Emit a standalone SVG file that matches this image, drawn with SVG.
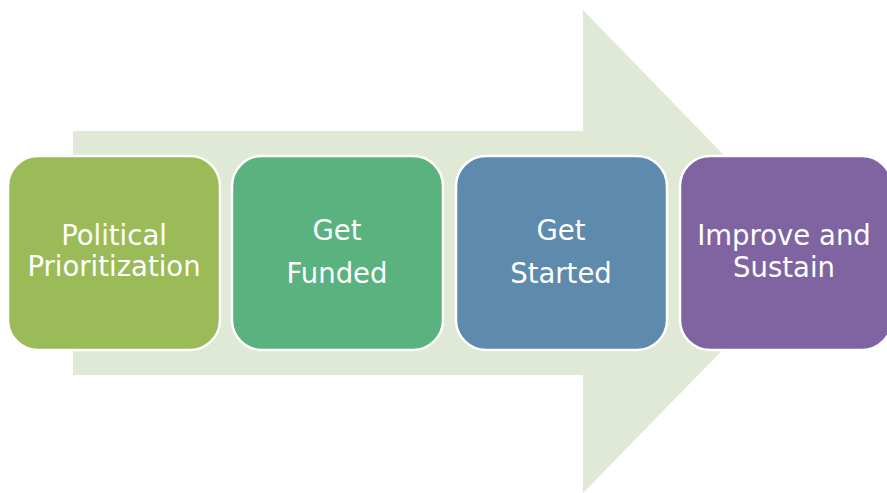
<svg xmlns="http://www.w3.org/2000/svg" width="887" height="493" viewBox="0 0 887 493">
<style>
.box{stroke:#ffffff;stroke-width:2.5}
.lbl{font-family:"DejaVu Sans","Liberation Sans",sans-serif;font-size:27.5px;fill:#ffffff;text-anchor:middle}
</style>
<rect width="887" height="493" fill="#ffffff"/>
<g id="connectors">
<polygon points="73,131 583,131 583,10 818,252 583,493 583,375 73,375" fill="#dfe9d5"/>
</g>
<g id="n1">
<rect class="box" x="8" y="156" width="212" height="194" rx="30" fill="#9bbb59"/>
<text class="lbl" x="114" y="245">Political</text>
<text class="lbl" x="114" y="276">Prioritization</text>
</g>
<g id="n2">
<rect class="box" x="232" y="156" width="211" height="194" rx="30" fill="#5ab27e"/>
<text class="lbl" x="337" y="240">Get</text>
<text class="lbl" x="337" y="283">Funded</text>
</g>
<g id="n3">
<rect class="box" x="456" y="156" width="211" height="194" rx="30" fill="#5e8bad"/>
<text class="lbl" x="561" y="240">Get</text>
<text class="lbl" x="561" y="283">Started</text>
</g>
<g id="n4">
<rect class="box" x="680" y="156" width="212" height="194" rx="30" fill="#8064a2"/>
<text class="lbl" x="784" y="245">Improve and</text>
<text class="lbl" x="784" y="277">Sustain</text>
</g>
</svg>
